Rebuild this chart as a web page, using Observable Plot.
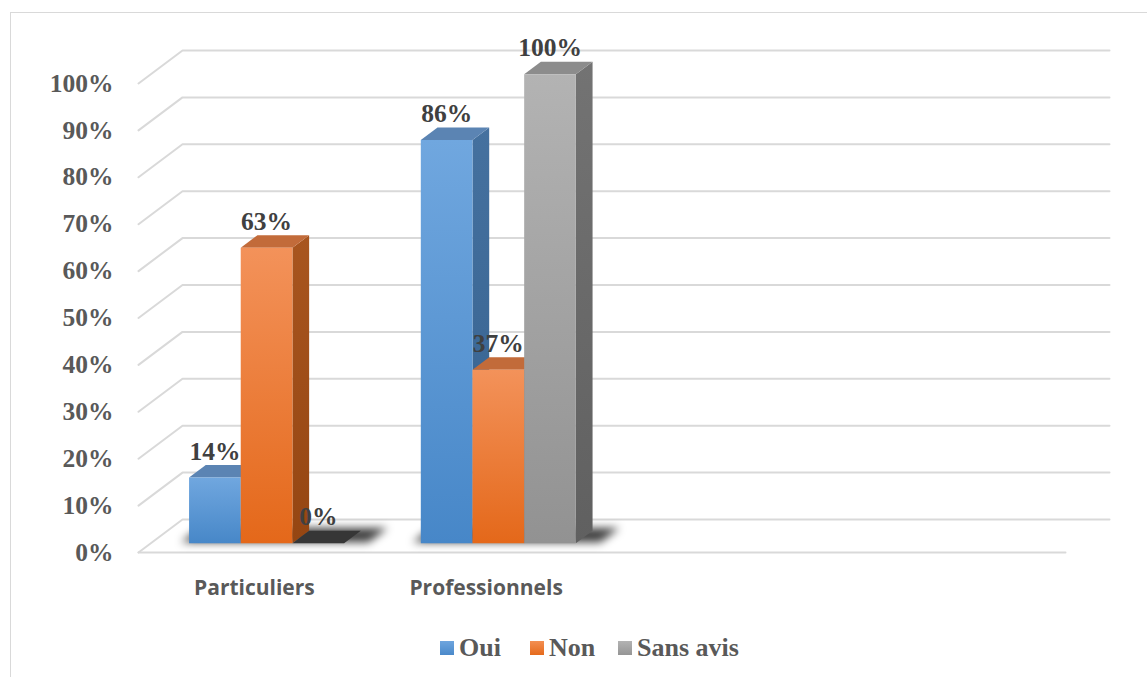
<!DOCTYPE html>
<html>
<head>
<meta charset="utf-8">
<script src="https://cdn.jsdelivr.net/npm/d3@7"></script>
<script src="https://cdn.jsdelivr.net/npm/@observablehq/plot@0.6"></script>
<style>
  body { margin: 0; background: #fff; width: 1147px; height: 677px; overflow: hidden; position: relative; }
  #frame { position: absolute; left: 10px; top: 12px; width: 1300px; height: 800px;
           border-left: 1px solid #d9d9d9; border-top: 1px solid #d9d9d9; }
  #chart { position: absolute; left: 0; top: 0; }
  g[aria-description="shadow"] { filter: blur(4px); }
  #legend { position: absolute; top: 633px; left: 440px; display: flex; align-items: center;
            font-family: "Liberation Serif", serif; font-weight: bold; font-size: 26px; color: #595959; }
  #legend .item { display: flex; align-items: center; }
  #legend .item:nth-child(1) { width: 90px; }
  #legend .item:nth-child(2) { width: 88px; }
  #legend .sw { width: 14px; height: 14px; margin-right: 5px; }
</style>
</head>
<body>
<div id="frame"></div>
<svg width="0" height="0" style="position:absolute">
  <defs>
    <linearGradient id="frontOui" x1="0" y1="0" x2="0" y2="1"><stop offset="0" stop-color="#70a7df"/><stop offset="1" stop-color="#4787c8"/></linearGradient>
    <linearGradient id="frontNon" x1="0" y1="0" x2="0" y2="1"><stop offset="0" stop-color="#f3925a"/><stop offset="1" stop-color="#e4681a"/></linearGradient>
    <linearGradient id="frontSans" x1="0" y1="0" x2="0" y2="1"><stop offset="0" stop-color="#b3b3b3"/><stop offset="1" stop-color="#929292"/></linearGradient>
    <linearGradient id="sideOui" x1="0" y1="0" x2="0" y2="1"><stop offset="0" stop-color="#45719f"/><stop offset="1" stop-color="#35618f"/></linearGradient>
    <linearGradient id="sideNon" x1="0" y1="0" x2="0" y2="1"><stop offset="0" stop-color="#a8551f"/><stop offset="1" stop-color="#954612"/></linearGradient>
    <linearGradient id="sideSans" x1="0" y1="0" x2="0" y2="1"><stop offset="0" stop-color="#737373"/><stop offset="1" stop-color="#606060"/></linearGradient>
  </defs>
</svg>
<div id="chart"></div>
<div id="legend"></div>
<script>
// ---- data ----
const categories = ["Particuliers", "Professionnels", "", ""];
const series = ["Oui", "Non", "Sans avis"];
const oui = [14, 86];
const non = [63, 37];
const sansAvis = [0, 100];
const yTicks = [0, 10, 20, 30, 40, 50, 60, 70, 80, 90, 100];

const seriesValues = [oui, non, sansAvis];

// ---- styling per series ----
const faceFills = [
  {front: "url(#frontOui)", side: "url(#sideOui)", top: "#5b84b3"},
  {front: "url(#frontNon)", side: "url(#sideNon)", top: "#c26b3a"},
  {front: "url(#frontSans)", side: "url(#sideSans)", top: "#8c8c8c"}
];
const swatches = [
  "linear-gradient(#6ea5de,#4a89ca)",
  "linear-gradient(#f38f52,#e56a1c)",
  "linear-gradient(#b3b3b3,#959595)"
];

// ---- layout ----
const W = 1147, H = 610;
const mL = 138, mR = 82, mT = 83, mB = 58;
const kx = (W - mL - mR) / categories.length; // px per category
const ky = (H - mT - mB) / 100;                // px per percent
const DEPTH_X = 44, DEPTH_Y = 33;              // oblique depth of the floor, px
const GAP = 0.165, BW = 0.223;                 // group inset and bar width (category units)
const D0 = 0.28, D1 = 0.66;                    // bar front / back depth (fraction of floor)

// oblique projection of a point (x, y, depth) into plain x/y data space
const P = (x, y, d) => ({x: x + d * DEPTH_X / kx, y: y + d * DEPTH_Y / ky});

// polygons helper: list of point lists -> flat rows with an id
function polys(list) {
  const rows = [];
  list.forEach((pts, id) => pts.forEach(p => rows.push({...p, id})));
  return rows;
}
const face = (list, fill, extra = {}) =>
  Plot.line(polys(list), {x: "x", y: "y", z: "id", fill, stroke: "none", curve: "linear", ...extra});

// gridlines: left wall diagonal + back wall horizontal
const grid = polys(yTicks.map(v => [P(0, v, 0), P(0, v, 1), P(categories.length, v, 1)]));
// front edge of the floor
const floorFront = [P(0, 0, 0), P(categories.length, 0, 0)];

// shadows below each group of bars
const nCat = d3.max(seriesValues, s => s.length);
const shadows = d3.range(nCat).map(i => {
  const a = i + GAP - 0.04, b = i + GAP + series.length * BW + 0.1;
  return [P(a, 0, D0 + 0.03), P(b, 0, D0 + 0.03), P(b, 0, D1 + 0.08), P(a, 0, D1 + 0.08)];
});

// bar faces
const barMarks = [];
const labels = [];
series.forEach((s, j) => {
  const fronts = [], sides = [], tops = [], zeroTops = [];
  seriesValues[j].forEach((v, i) => {
    const x0 = i + GAP + j * BW, x1 = x0 + BW;
    fronts.push([P(x0, 0, D0), P(x1, 0, D0), P(x1, v, D0), P(x0, v, D0)]);
    sides.push([P(x1, 0, D0), P(x1, 0, D1), P(x1, v, D1), P(x1, v, D0)]);
    (v === 0 ? zeroTops : tops).push([P(x0, v, D0), P(x1, v, D0), P(x1, v, D1), P(x0, v, D1)]);
    const c = P((x0 + x1) / 2, v, D0);
    labels.push({x: c.x, y: c.y, text: v + "%"});
  });
  barMarks.push(face(sides, faceFills[j].side));
  barMarks.push(face(tops, faceFills[j].top));
  barMarks.push(face(zeroTops, "#363636"));
  barMarks.push(face(fronts, faceFills[j].front));
});

const catLabels = categories.map((c, i) => ({x: i + 0.5, text: c})).filter(d => d.text);

const chart = Plot.plot({
  width: W,
  height: H,
  marginLeft: mL,
  marginRight: mR,
  marginTop: mT,
  marginBottom: mB,
  style: {
    fontFamily: "'Liberation Serif', serif",
    fontSize: "25.5px",
    fontWeight: "bold",
    color: "#595959",
    background: "transparent",
    overflow: "visible"
  },
  x: {domain: [0, categories.length], axis: null},
  y: {
    domain: [0, 100],
    ticks: yTicks,
    tickSize: 0,
    tickPadding: 25,
    tickFormat: d => d + "%",
    label: null
  },
  marks: [
    Plot.line(grid, {x: "x", y: "y", z: "id", stroke: "#d9d9d9", strokeWidth: 2, curve: "linear"}),
    Plot.line(floorFront, {x: "x", y: "y", stroke: "#d9d9d9", strokeWidth: 2}),
    face(shadows, "#000", {fillOpacity: 0.75, ariaDescription: "shadow"}),
    ...barMarks,
    Plot.text(labels, {
      x: "x", y: "y", text: "text", dy: -26,
      fill: "#404040", fontSize: 25.5, fontWeight: "bold", fontFamily: "'Liberation Serif', serif"
    }),
    Plot.text(catLabels, {
      x: "x", y: () => 0, text: "text", dy: 36,
      fill: "#595959", fontSize: 21, fontWeight: "bold", fontFamily: "'Open Sans', sans-serif"
    })
  ]
});
document.getElementById("chart").appendChild(chart);

// legend
const legend = d3.select("#legend");
series.forEach((s, j) => {
  const item = legend.append("div").attr("class", "item");
  item.append("div").attr("class", "sw").style("background", swatches[j]);
  item.append("span").text(s);
});
</script>
</body>
</html>
